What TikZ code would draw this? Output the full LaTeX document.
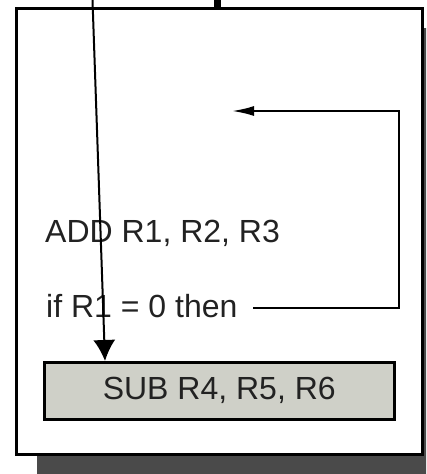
\documentclass[tikz,border=0pt]{standalone}
\usepackage{fontspec}
\setmainfont{Liberation Sans}
\usetikzlibrary{arrows.meta}
\definecolor{shadowgray}{HTML}{4A4A4A}
\definecolor{boxgray}{HTML}{CFD0C8}
\definecolor{txt}{HTML}{222222}
\tikzset{
  codetext/.style={font=\fontsize{32}{36}\selectfont, text=txt, inner sep=0pt, anchor=base west},
  frame/.style={draw=black, line width=3pt, fill=white},
  subbox/.style={draw=black, line width=2.5pt, fill=boxgray, minimum width=350pt, minimum height=57pt, inner sep=0pt, font=\fontsize{32}{36}\selectfont, text=txt},
  conn/.style={draw=black, line width=2pt},
}
\begin{document}
\begin{tikzpicture}[x=1pt,y=1pt]
\path[use as bounding box, clip] (0,0) rectangle (426,-474);
% shadow
\fill[shadowgray] (37,-28) rectangle (443,-474);
% outer frame
\node[frame, minimum width=406pt, minimum height=446pt, inner sep=0pt, anchor=north west] (frame) at (15,-7) {};
% texts
\node[codetext] (add) at (45,-242) {ADD R1, R2, R3};
\node[codetext] (iff) at (46,-317) {if R1 = 0 then};
\node[subbox, anchor=north west] (sub) at (43,-361) {SUB R4, R5, R6};
% coordinates
\coordinate (topin) at (92.5,0);
\coordinate (subin) at (105,-361);
\coordinate (stubtop) at (217,0);
\coordinate (loopstart) at (253,-308);
\coordinate (loopcorner1) at (399,-308);
\coordinate (loopcorner2) at (399,-111);
\coordinate (looptarget) at (232,-111);
% connectors
\draw[conn, -{Latex[length=21pt,width=22pt]}] (topin) -- (subin);
\draw[black, line width=7pt] (stubtop) -- (stubtop |- frame.north);
\draw[conn, -{Latex[length=22pt,width=10pt]}] (loopstart) -- (loopcorner1) -- (loopcorner2) -- (looptarget);
\end{tikzpicture}
\end{document}
